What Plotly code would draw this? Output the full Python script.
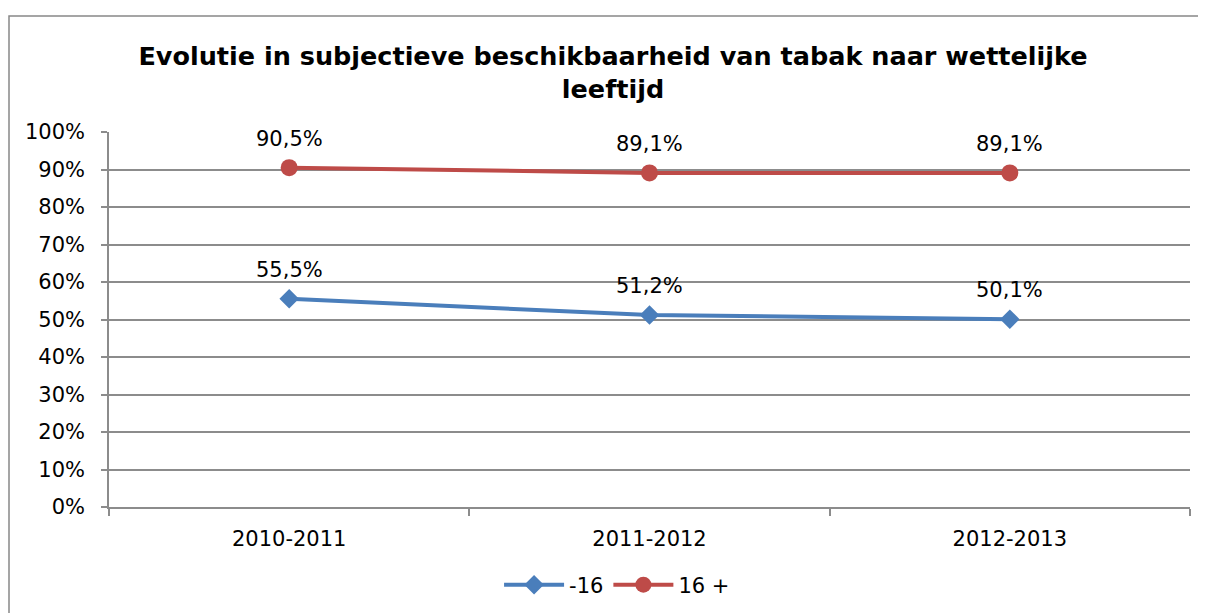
import plotly.graph_objects as go

categories = ["2010-2011", "2011-2012", "2012-2013"]
under16 = [0.555, 0.512, 0.501]
over16 = [0.905, 0.891, 0.891]
series_names = ["-16", "16 +"]
ytick_vals = [i / 10 for i in range(11)]
ytick_text = [f"{i * 10}%" for i in range(11)]

FONT = "DejaVu Sans, Verdana, sans-serif"
BLUE = "#4A7EBB"
RED = "#BE4B48"
GRID = "#8c8c8c"

fig = go.Figure()
fig.add_trace(go.Scatter(
    x=categories, y=under16, name=series_names[0], mode="lines+markers",
    line=dict(color=BLUE, width=4),
    marker=dict(symbol="diamond", size=15, color=BLUE),
))
fig.add_trace(go.Scatter(
    x=categories, y=over16, name=series_names[1], mode="lines+markers",
    line=dict(color=RED, width=4),
    marker=dict(symbol="circle", size=17, color=RED),
))

def fmt(v):
    return f"{v * 100:.1f}%".replace(".", ",")

for series in (under16, over16):
    for c, v in zip(categories, series):
        fig.add_annotation(x=c, y=v, text=fmt(v), showarrow=False,
                           yshift=29, font=dict(family=FONT, size=21, color="#000"))

# page has an 8px body margin, so the figure is 8px smaller and shifted
OFF = 8
W, H = 1206 - OFF, 613 - OFF
L, R, T, B = 109 - OFF, 16, 132 - OFF, 106
pw, ph = W - L - R, H - T - B
# outer chart border
fig.add_shape(type="rect", xref="paper", yref="paper",
              x0=(1 - L) / pw, x1=(W + 10 - L) / pw,
              y0=(H - B - (H + 10)) / ph, y1=(H - B - 8) / ph,
              line=dict(color="#888888", width=1.5), layer="below")

fig.update_layout(
    width=W, height=H,
    margin=dict(l=L, r=R, t=T, b=B),
    paper_bgcolor="white", plot_bgcolor="white",
    font=dict(family=FONT, size=21, color="#000"),
    title=dict(
        text="<b>Evolutie in subjectieve beschikbaarheid van tabak naar wettelijke<br>leeftijd</b>",
        x=(613 - OFF) / W, xanchor="center", xref="container",
        y=1 - 57 / H, yanchor="top", yref="container",
        font=dict(family=FONT, size=25.5, color="#000"),
    ),
    showlegend=True,
    legend=dict(orientation="h", x=0.47, xanchor="center",
                yref="container", y=1 - (585 - OFF) / H, yanchor="middle",
                font=dict(family=FONT, size=21), itemwidth=60),
    xaxis=dict(
        type="category", range=[-0.5, 2.5], tickson="boundaries",
        ticks="outside", ticklen=7, tickcolor=GRID, tickwidth=1.5,
        showgrid=False, showline=True, linecolor=GRID, linewidth=1.5,
        ticklabelstandoff=12, fixedrange=True,
    ),
    yaxis=dict(
        range=[0, 1], tickvals=ytick_vals, ticktext=ytick_text,
        ticks="outside", ticklen=6, tickcolor=GRID, tickwidth=1.5,
        showgrid=True, gridcolor=GRID, gridwidth=1.5,
        showline=True, linecolor=GRID, linewidth=1.5,
        zeroline=False, ticklabelstandoff=12, fixedrange=True,
    ),
)

fig.write_html("out.html")
